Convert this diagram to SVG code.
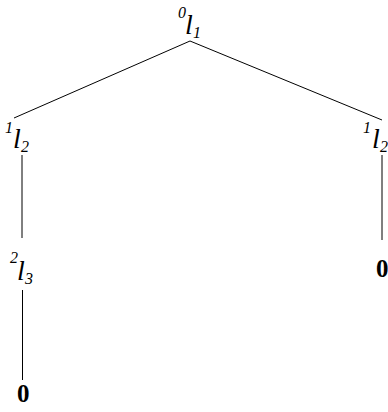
<svg xmlns="http://www.w3.org/2000/svg" width="388" height="412" viewBox="0 0 388 412">
<style>
text{font-family:'Liberation Serif','Times New Roman',Times,serif;fill:#000}
.t{font-style:italic}
.m{font-size:28px}
.s{font-size:16px}
.z{font-weight:bold;font-size:25px}
line{stroke:#000;stroke-width:1}
</style>
<rect width="388" height="412" fill="#fff"/>
<g id="connectors">
<line x1="190" y1="41" x2="14" y2="118"/>
<line x1="190" y1="41" x2="382" y2="120"/>
<line x1="22" y1="155" x2="22" y2="238"/>
<line x1="22.5" y1="290" x2="22.5" y2="380"/>
<line x1="382" y1="155" x2="382" y2="240"/>
</g>
<g id="n0">
<text class="t s" x="178" y="18">0</text>
<text class="t m" x="185" y="34">l</text>
<text class="t s" x="193" y="38">1</text>
</g>
<g id="n1">
<text class="t s" x="5" y="133">1</text>
<text class="t m" x="13" y="148">l</text>
<text class="t s" x="21" y="152">2</text>
</g>
<g id="n2">
<text class="t s" x="10" y="263">2</text>
<text class="t m" x="17" y="280">l</text>
<text class="t s" x="25" y="284">3</text>
</g>
<g id="n3">
<text class="z" x="17" y="402">0</text>
</g>
<g id="n4">
<text class="t s" x="363" y="133">1</text>
<text class="t m" x="372" y="148">l</text>
<text class="t s" x="380" y="152">2</text>
</g>
<g id="n5">
<text class="z" x="376" y="277">0</text>
</g>
</svg>
